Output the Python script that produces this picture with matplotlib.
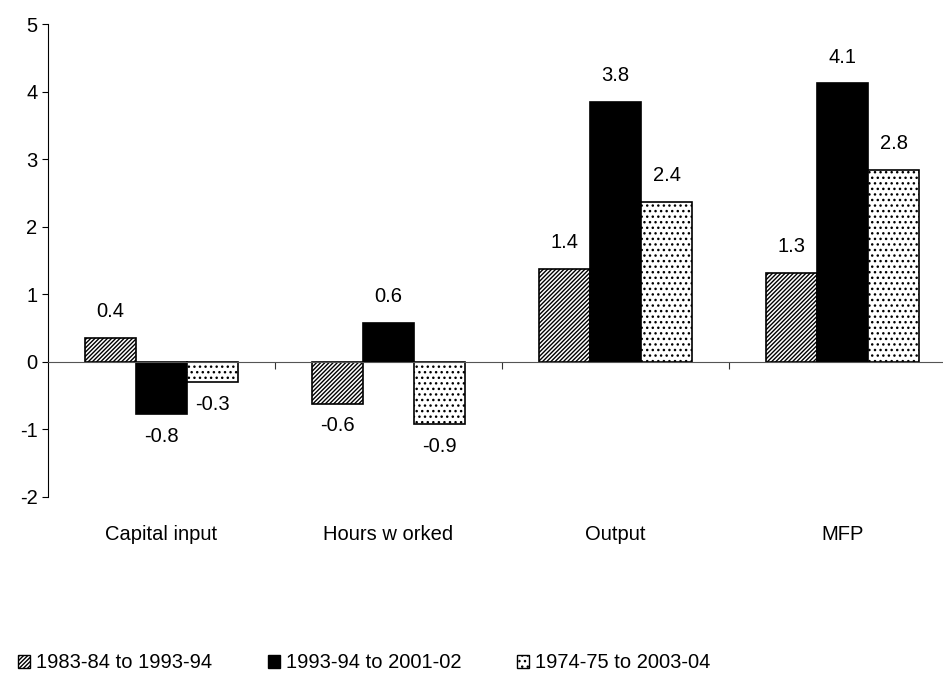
import matplotlib
matplotlib.use("Agg")
from matplotlib import pyplot as plt
from matplotlib.patches import Patch
import numpy as np

plt.rcParams['font.family'] = ['Liberation Sans', 'DejaVu Sans']
plt.rcParams['hatch.linewidth'] = 1.0
plt.rcParams['axes.unicode_minus'] = False

categories = ['Capital input', 'Hours w orked', 'Output', 'MFP']
series_names = ['1983-84 to 1993-94', '1993-94 to 2001-02', '1974-75 to 2003-04']
vals_8394 = [0.36, -0.62, 1.38, 1.32]
vals_9302 = [-0.77, 0.58, 3.84, 4.12]
vals_7404 = [-0.30, -0.92, 2.36, 2.84]

series = [vals_8394, vals_9302, vals_7404]
styles = [dict(facecolor='white', hatch='////////'),
          dict(facecolor='black', hatch=None),
          dict(facecolor='white', hatch='...')]

fs = 14.5
fig = plt.figure(figsize=(9.43, 6.86), dpi=100)
ax = fig.add_axes([48 / 943, 1 - 497 / 686, 908 / 943, (497 - 24) / 686])

x = np.arange(len(categories))
w = 0.225
for i, (vals, st) in enumerate(zip(series, styles)):
    pos = x + (i - 1) * w
    ax.bar(pos, vals, w, edgecolor='black', linewidth=1.2, **st)
    for px, v in zip(pos, vals):
        off = 19 if v >= 0 else -16
        ax.annotate(f'{v:.1f}', (px, v), xytext=(0, off), textcoords='offset points',
                    ha='center', va='center', fontsize=fs)

ax.set_xlim(-0.5, 3.5)
ax.set_ylim(-2, 5)
ax.set_yticks(range(-2, 6))
ax.tick_params(axis='y', labelsize=fs, length=4, direction='out')
ax.spines['top'].set_visible(False)
ax.spines['right'].set_visible(False)
ax.spines['bottom'].set_position(('data', 0))
ax.spines['bottom'].set_color('#555555')
ax.set_xticks([0.5, 1.5, 2.5])
ax.set_xticklabels([])
ax.tick_params(axis='x', length=5, direction='out', color='#333333')

for xi, name in zip(x, categories):
    ax.text(xi, -2.55, name, ha='center', va='center', fontsize=fs)

handles = [Patch(edgecolor='black', linewidth=1.0, **st) for st in styles]
fig.legend(handles, series_names, loc='center left', bbox_to_anchor=(0.0, 1 - 663 / 686),
           ncol=3, frameon=False, fontsize=fs, handlelength=0.6, handleheight=0.6,
           handletextpad=0.3, columnspacing=2.75)

fig.savefig('out.png', dpi=100)
